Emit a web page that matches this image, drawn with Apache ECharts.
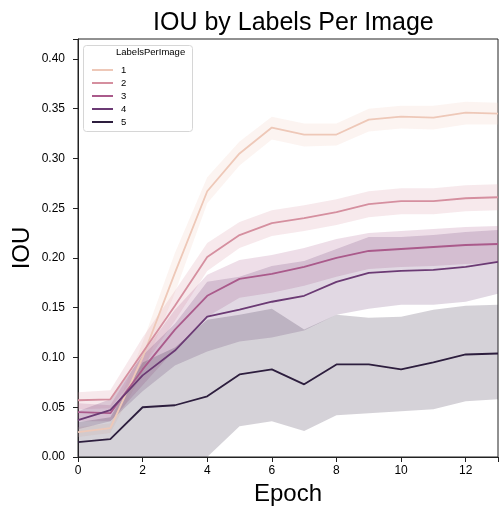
<!DOCTYPE html>
<html>
<head>
<meta charset="utf-8">
<script src="https://cdn.jsdelivr.net/npm/echarts@6/dist/echarts.min.js"></script>
<style>
  html, body { margin: 0; padding: 0; background: #fff; }
  #chart { width: 499px; height: 506px; }
</style>
</head>
<body>
<div id="chart"></div>
<script>
// epochs on the x axis
var epochs = [0, 1, 2, 3, 4, 5, 6, 7, 8, 9, 10, 11, 12, 13];
var labelNames = ['1', '2', '3', '4', '5'];

// mean IOU per LabelsPerImage
var iou1 = [0.025, 0.029, 0.100, 0.185, 0.267, 0.305, 0.331, 0.324, 0.324, 0.339, 0.342, 0.341, 0.346, 0.345];
var iou2 = [0.057, 0.058, 0.105, 0.152, 0.201, 0.223, 0.235, 0.240, 0.246, 0.254, 0.257, 0.257, 0.260, 0.261];
var iou3 = [0.045, 0.044, 0.088, 0.128, 0.162, 0.179, 0.184, 0.191, 0.200, 0.207, 0.209, 0.211, 0.213, 0.214];
var iou4 = [0.037, 0.047, 0.082, 0.107, 0.141, 0.148, 0.156, 0.162, 0.176, 0.185, 0.187, 0.188, 0.191, 0.196];
var iou5 = [0.015, 0.018, 0.050, 0.052, 0.061, 0.083, 0.088, 0.073, 0.093, 0.093, 0.088, 0.095, 0.103, 0.104];

// confidence band edges
var low1 = [0.020, 0.024, 0.085, 0.165, 0.255, 0.293, 0.319, 0.312, 0.313, 0.327, 0.330, 0.329, 0.334, 0.334];
var high1 = [0.030, 0.034, 0.115, 0.205, 0.281, 0.317, 0.342, 0.335, 0.335, 0.350, 0.353, 0.353, 0.357, 0.356];
var low2 = [0.048, 0.049, 0.090, 0.137, 0.187, 0.210, 0.222, 0.227, 0.233, 0.241, 0.244, 0.244, 0.247, 0.248];
var high2 = [0.065, 0.067, 0.120, 0.167, 0.215, 0.236, 0.248, 0.253, 0.259, 0.267, 0.270, 0.270, 0.273, 0.274];
var low3 = [0.036, 0.036, 0.072, 0.108, 0.141, 0.160, 0.165, 0.172, 0.181, 0.189, 0.191, 0.192, 0.194, 0.195];
var high3 = [0.054, 0.052, 0.104, 0.148, 0.183, 0.198, 0.203, 0.210, 0.219, 0.225, 0.227, 0.229, 0.231, 0.232];
var low4 = [0.028, 0.036, 0.066, 0.092, 0.106, 0.116, 0.120, 0.127, 0.143, 0.149, 0.153, 0.153, 0.156, 0.164];
var high4 = [0.046, 0.058, 0.102, 0.134, 0.176, 0.181, 0.192, 0.197, 0.209, 0.221, 0.221, 0.223, 0.226, 0.228];
var low5 = [0, 0, 0, 0, 0, 0.031, 0.036, 0.026, 0.042, 0.044, 0.046, 0.048, 0.056, 0.058];
var high5 = [0.035, 0.040, 0.095, 0.110, 0.138, 0.143, 0.149, 0.128, 0.143, 0.140, 0.141, 0.148, 0.152, 0.153];

var colors = ['#eec8b8', '#d58f9f', '#aa5a8b', '#6b3a74', '#2d1e3e'];
var means = [iou1, iou2, iou3, iou4, iou5];
var lows = [low1, low2, low3, low4, low5];
var highs = [high1, high2, high3, high4, high5];

var font = 'Liberation Sans, Arial, sans-serif';

function pairs(vals) {
  return epochs.map(function (e, i) { return [e, vals[i]]; });
}

// polygon between low and high, placed with api.coord
function bandRenderer(k) {
  return function (params, api) {
    var pts = [];
    for (var i = 0; i < epochs.length; i++) pts.push(api.coord([epochs[i], highs[k][i]]));
    for (var i = epochs.length - 1; i >= 0; i--) pts.push(api.coord([epochs[i], lows[k][i]]));
    return {
      type: 'polygon',
      shape: { points: pts },
      style: { fill: colors[k], opacity: 0.2 }
    };
  };
}

var series = [];
// bands first (fills sit under the lines)
for (var k = 0; k < 5; k++) {
  series.push({
    name: 'band' + labelNames[k],
    type: 'custom',
    silent: true,
    renderItem: bandRenderer(k),
    encode: { x: 0, y: 1 },
    data: [[epochs[0], lows[k][0]]],
    z: 1
  });
}
for (var j = 0; j < 5; j++) {
  series.push({
    name: labelNames[j],
    type: 'line',
    symbol: 'none',
    color: colors[j],
    lineStyle: { color: colors[j], width: 1.8 },
    data: pairs(means[j]),
    z: 2
  });
}

var chart = echarts.init(document.getElementById('chart'));
chart.setOption({
  animation: false,
  textStyle: { fontFamily: font },
  title: {
    text: 'IOU by Labels Per Image',
    left: 148,
    top: 6,
    textStyle: { fontFamily: font, fontSize: 25, fontWeight: 'normal', color: '#000' }
  },
  grid: {
    left: 78, right: 1, top: 39, bottom: 49,
    outerBoundsMode: 'none',
    containLabel: false,
    show: true, borderColor: '#222', borderWidth: 1
  },
  legend: {
    data: labelNames,
    orient: 'vertical',
    left: 86,
    top: 60,
    z: 10,
    itemWidth: 21,
    itemHeight: 11,
    itemGap: 3,
    selectedMode: false,
    itemStyle: { opacity: 0 },
    textStyle: { fontFamily: font, fontSize: 9.5, color: '#000', padding: [0, 0, 0, 3] }
  },
  graphic: [
    {
      type: 'rect',
      shape: { x: 83.5, y: 45.5, width: 109, height: 86, r: 3 },
      style: { fill: 'rgba(255,255,255,0.8)', stroke: '#d6d6d6', lineWidth: 1 },
      z: 3
    },
    {
      type: 'text',
      left: 116,
      top: 47,
      style: { text: 'LabelsPerImage', fontFamily: font, fontSize: 9.5, fill: '#000' },
      z: 11
    }
  ],
  xAxis: {
    type: 'value',
    min: 0,
    max: 13,
    interval: 2,
    name: 'Epoch',
    nameLocation: 'middle',
    nameGap: 25,
    nameMoveOverlap: false,
    nameTextStyle: { fontFamily: font, fontSize: 24, color: '#000' },
    splitLine: { show: false },
    axisLine: { lineStyle: { color: '#222', width: 1 } },
    axisTick: { length: 5, lineStyle: { color: '#222' } },
    axisLabel: {
      margin: 8, fontSize: 12, color: '#000', fontFamily: font,
      formatter: function (v) { return v % 2 === 0 ? String(v) : ''; }
    }
  },
  yAxis: {
    type: 'value',
    min: 0,
    max: 0.42,
    interval: 0.05,
    name: 'IOU',
    nameLocation: 'middle',
    nameGap: 44,
    nameMoveOverlap: false,
    nameTextStyle: { fontFamily: font, fontSize: 24, color: '#000' },
    splitLine: { show: false },
    axisLine: { show: true, lineStyle: { color: '#222', width: 1 } },
    axisTick: { show: true, length: 5, lineStyle: { color: '#222' } },
    axisLabel: {
      margin: 13, fontSize: 12, color: '#000', fontFamily: font,
      formatter: function (v) {
        return Math.abs(v * 20 - Math.round(v * 20)) < 1e-6 ? v.toFixed(2) : '';
      }
    }
  },
  series: series
});
</script>
</body>
</html>
